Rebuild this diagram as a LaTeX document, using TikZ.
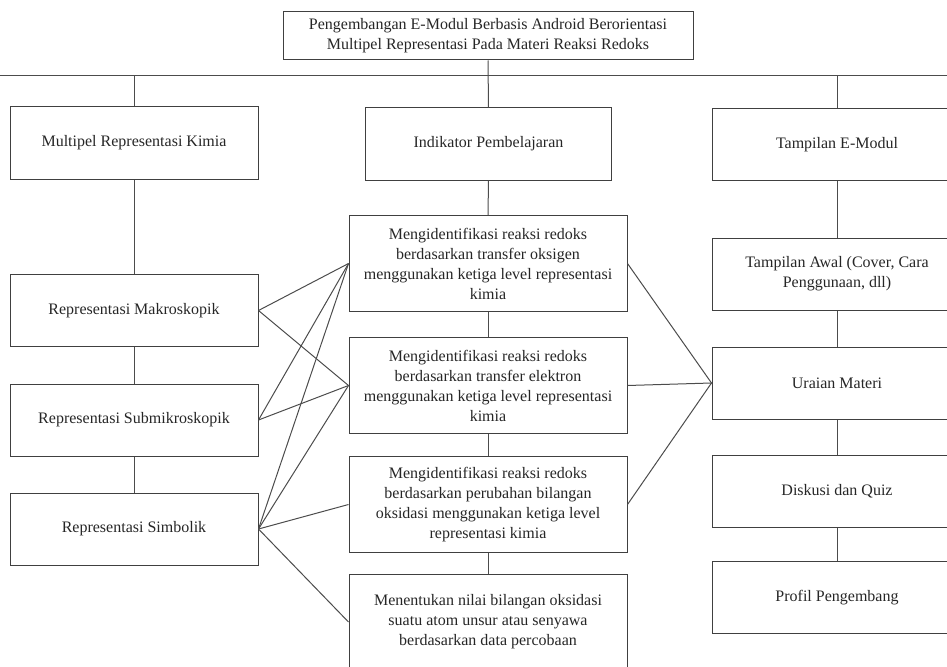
\documentclass[tikz,border=0pt]{standalone}
\usepackage{fontspec}
\setmainfont{Liberation Serif}
\begin{document}
\begin{tikzpicture}[x=0.75pt,y=-0.75pt,
  kotak/.style={draw=black!75,line width=0.75pt,align=center,inner sep=2pt,
    font=\fontsize{12}{15}\selectfont,text=black!85},
  kiri/.style={kotak,minimum width=186pt,minimum height=54pt},
  tengah/.style={kotak,minimum width=208.5pt,minimum height=72pt},
  kanan/.style={kotak,minimum width=187.5pt,minimum height=54pt},
  garis/.style={draw=black!70,line width=0.75pt}]
\clip (0,0) rectangle (947,667);
% judul
\node[kotak,minimum width=307.5pt,minimum height=36pt] (judul) at (488,36)
  {Pengembangan E-Modul Berbasis Android Berorientasi\\Multipel Representasi Pada Materi Reaksi Redoks};
\coordinate (busL) at (0,76);
\coordinate (busR) at (947,76);
% kolom kiri
\node[kiri] (mrk) at (134,143) {Multipel Representasi Kimia};
\node[kiri] (makro) at (134,310.5) {Representasi Makroskopik};
\node[kiri] (sub) at (134,420) {Representasi Submikroskopik};
\node[kiri] (sim) at (134,529) {Representasi Simbolik};
% kolom tengah
\node[kotak,minimum width=185pt,minimum height=54pt] (ind) at (488.5,144) {Indikator Pembelajaran};
\node[tengah] (ind1) at (488,263.5) {Mengidentifikasi reaksi redoks\\berdasarkan transfer oksigen\\menggunakan ketiga level representasi\\kimia};
\node[tengah] (ind2) at (488,385.5) {Mengidentifikasi reaksi redoks\\berdasarkan transfer elektron\\menggunakan ketiga level representasi\\kimia};
\node[tengah] (ind3) at (488,504.5) {Mengidentifikasi reaksi redoks\\berdasarkan perubahan bilangan\\oksidasi menggunakan ketiga level\\representasi kimia};
\node[tengah] (ind4) at (488,622) {Menentukan nilai bilangan oksidasi\\suatu atom unsur atau senyawa\\berdasarkan data percobaan};
% kolom kanan
\node[kanan] (tamp) at (837,144.5) {Tampilan E-Modul};
\node[kanan] (awal) at (837,274) {Tampilan Awal (Cover, Cara\\Penggunaan, dll)};
\node[kanan] (uraian) at (837,383) {Uraian Materi};
\node[kanan] (kuis) at (837,491) {Diskusi dan Quiz};
\node[kanan] (profil) at (837,597.5) {Profil Pengembang};
% garis
\draw[garis] (busL) -- (busR);
\draw[garis] (judul.south) -- (ind.north);
\draw[garis] (busL -| mrk) -- (mrk.north);
\draw[garis] (busL -| tamp) -- (tamp.north);
\foreach \a/\b in {mrk/makro,makro/sub,sub/sim,ind/ind1,ind1/ind2,ind2/ind3,ind3/ind4,tamp/awal,awal/uraian,uraian/kuis,kuis/profil}
{
\draw[garis] (\a.south) -- (\b.north);
}
\foreach \a/\b in {makro/ind1,makro/ind2,sub/ind1,sub/ind2,sim/ind1,sim/ind2,sim/ind3,sim/ind4}
{
\draw[garis] (\a.east) -- (\b.west);
}
\foreach \b in {ind1,ind2,ind3}
{
\draw[garis] (\b.east) -- (uraian.west);
}
\end{tikzpicture}
\end{document}
